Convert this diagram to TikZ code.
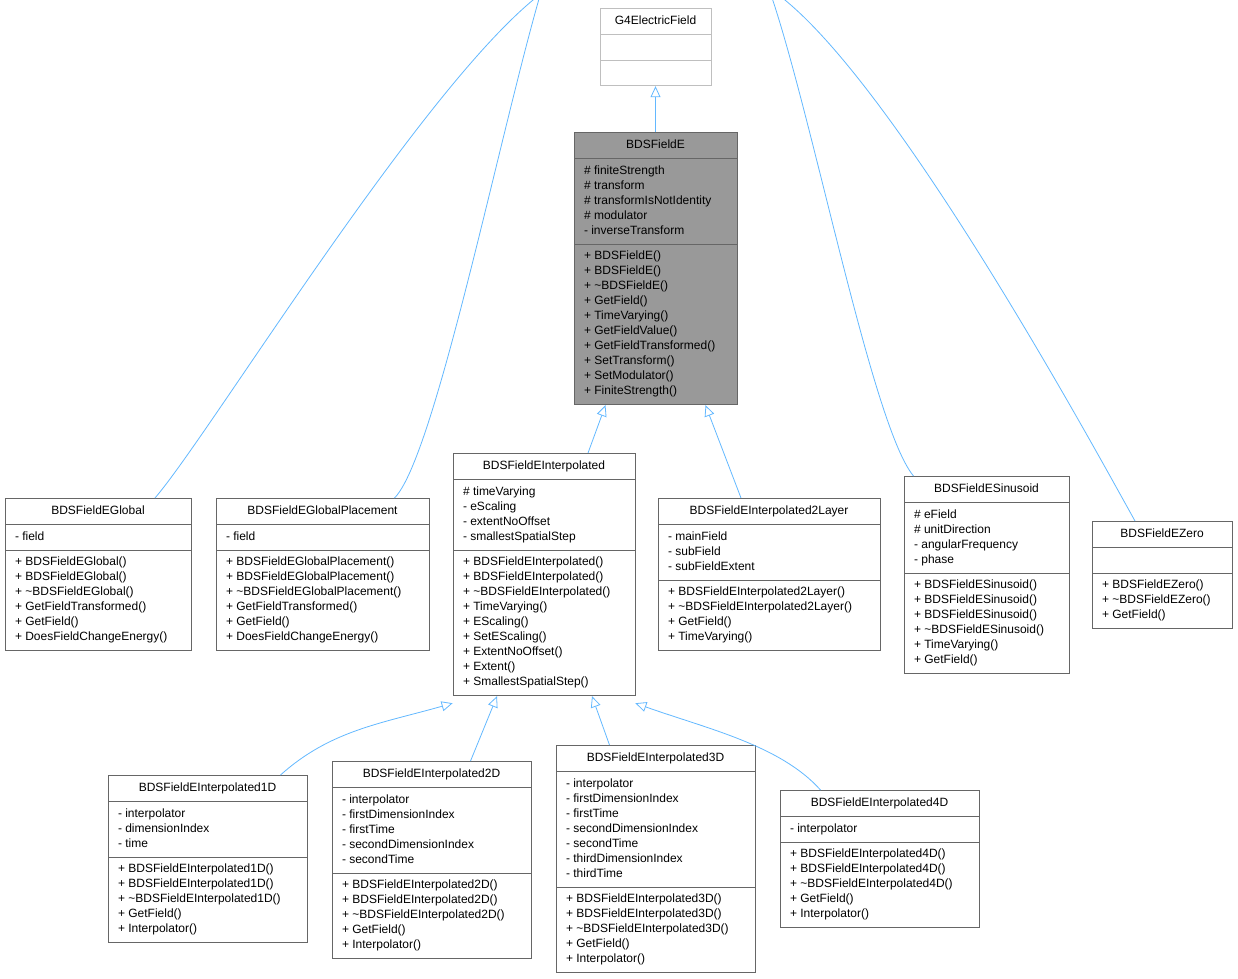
\documentclass[tikz,border=0pt]{standalone}
\usepackage{fontspec}
\setmainfont{Liberation Sans}
\usetikzlibrary{shapes.multipart,arrows.meta}
\definecolor{edgeblue}{HTML}{63B8FF}
\definecolor{boxline}{HTML}{666666}
\newcommand{\rows}[1]{\begin{tabular}{@{}l@{}}#1\end{tabular}}
\newcommand{\cls}[8][]{%
  \node[umlbox,#1,minimum width=#5pt] (#2) at (#3,#4)
   {\rows{#6}\nodepart{two}\rows{#7}\nodepart{three}\rows{#8}};}
\begin{document}
\begin{tikzpicture}[x=1pt,y=-1pt,
  umlbox/.style={draw=boxline,fill=white,rectangle split,rectangle split parts=3,
    rectangle split part align={center,left,left},anchor=north,inner xsep=10pt,inner ysep=5pt,
    font=\fontsize{12}{15}\selectfont,line width=0.8pt},
  inh/.style={draw=edgeblue,line width=0.8pt,-{Triangle[open,length=11pt,width=10pt,fill=white]}}]
\useasboundingbox (0,0) rectangle (1238,978);
\cls[draw={rgb,255:red,191;green,191;blue,191}]{g4}{655.5}{8}{111}{G4ElectricField}{\mbox{}}{\mbox{}}
\cls[rectangle split part fill={gray!80,white,white},fill=gray!80]{E}{655.5}{132}{163}{BDSFieldE}{\# finiteStrength\\\# transform\\\# transformIsNotIdentity\\\# modulator\\- inverseTransform}{+ BDSFieldE()\\+ BDSFieldE()\\+ \textasciitilde BDSFieldE()\\+ GetField()\\+ TimeVarying()\\+ GetFieldValue()\\+ GetFieldTransformed()\\+ SetTransform()\\+ SetModulator()\\+ FiniteStrength()}
\cls{glob}{98}{498}{186}{BDSFieldEGlobal}{- field}{+ BDSFieldEGlobal()\\+ BDSFieldEGlobal()\\+ \textasciitilde BDSFieldEGlobal()\\+ GetFieldTransformed()\\+ GetField()\\+ DoesFieldChangeEnergy()}
\cls{place}{322.5}{498}{213}{BDSFieldEGlobalPlacement}{- field}{+ BDSFieldEGlobalPlacement()\\+ BDSFieldEGlobalPlacement()\\+ \textasciitilde BDSFieldEGlobalPlacement()\\+ GetFieldTransformed()\\+ GetField()\\+ DoesFieldChangeEnergy()}
\cls{interp}{544}{453}{182}{BDSFieldEInterpolated}{\# timeVarying\\- eScaling\\- extentNoOffset\\- smallestSpatialStep}{+ BDSFieldEInterpolated()\\+ BDSFieldEInterpolated()\\+ \textasciitilde BDSFieldEInterpolated()\\+ TimeVarying()\\+ EScaling()\\+ SetEScaling()\\+ ExtentNoOffset()\\+ Extent()\\+ SmallestSpatialStep()}
\cls{twol}{769}{498}{222}{BDSFieldEInterpolated2Layer}{- mainField\\- subField\\- subFieldExtent}{+ BDSFieldEInterpolated2Layer()\\+ \textasciitilde BDSFieldEInterpolated2Layer()\\+ GetField()\\+ TimeVarying()}
\cls{sin}{986.5}{476}{165}{BDSFieldESinusoid}{\# eField\\\# unitDirection\\- angularFrequency\\- phase}{+ BDSFieldESinusoid()\\+ BDSFieldESinusoid()\\+ BDSFieldESinusoid()\\+ \textasciitilde BDSFieldESinusoid()\\+ TimeVarying()\\+ GetField()}
\cls{zero}{1162}{521}{140}{BDSFieldEZero}{\mbox{}}{+ BDSFieldEZero()\\+ \textasciitilde BDSFieldEZero()\\+ GetField()}
\cls{i1}{207.5}{775}{199}{BDSFieldEInterpolated1D}{- interpolator\\- dimensionIndex\\- time}{+ BDSFieldEInterpolated1D()\\+ BDSFieldEInterpolated1D()\\+ \textasciitilde BDSFieldEInterpolated1D()\\+ GetField()\\+ Interpolator()}
\cls{i2}{431.5}{761}{199}{BDSFieldEInterpolated2D}{- interpolator\\- firstDimensionIndex\\- firstTime\\- secondDimensionIndex\\- secondTime}{+ BDSFieldEInterpolated2D()\\+ BDSFieldEInterpolated2D()\\+ \textasciitilde BDSFieldEInterpolated2D()\\+ GetField()\\+ Interpolator()}
\cls{i3}{655.5}{745}{199}{BDSFieldEInterpolated3D}{- interpolator\\- firstDimensionIndex\\- firstTime\\- secondDimensionIndex\\- secondTime\\- thirdDimensionIndex\\- thirdTime}{+ BDSFieldEInterpolated3D()\\+ BDSFieldEInterpolated3D()\\+ \textasciitilde BDSFieldEInterpolated3D()\\+ GetField()\\+ Interpolator()}
\cls{i4}{879.5}{790}{199}{BDSFieldEInterpolated4D}{- interpolator}{+ BDSFieldEInterpolated4D()\\+ BDSFieldEInterpolated4D()\\+ \textasciitilde BDSFieldEInterpolated4D()\\+ GetField()\\+ Interpolator()}
% connectors
\draw[inh] (E.north) -- (g4.south);
\draw[inh] ([xshift=57pt]glob.north) .. controls +(60,-70) and +(-120,60) .. ([yshift=158pt]E.north west);
\draw[inh] ([xshift=72pt]place.north) .. controls +(50,-50) and +(-40,30) .. ([yshift=206pt]E.north west);
\draw[inh] ([xshift=44pt]interp.north) -- ([xshift=-50pt]E.south);
\draw[inh] ([xshift=-28pt]twol.north) -- ([xshift=50pt]E.south);
\draw[inh] ([xshift=-73pt]sin.north) .. controls +(-50,-60) and +(50,40) .. ([yshift=196pt]E.north east);
\draw[inh] ([xshift=-27pt]zero.north) .. controls +(-50,-90) and +(120,40) .. ([yshift=158pt]E.north east);
\draw[inh] ([xshift=73pt]i1.north) .. controls +(50,-45) and +(-70,20) .. ([yshift=-7pt]interp.south west);
\draw[inh] ([xshift=39pt]i2.north) -- ([xshift=-47pt]interp.south);
\draw[inh] ([xshift=-46pt]i3.north) -- ([xshift=48pt]interp.south);
\draw[inh] ([xshift=-59pt]i4.north) .. controls +(-40,-45) and +(70,25) .. ([yshift=-7pt]interp.south east);
\end{tikzpicture}
\end{document}
